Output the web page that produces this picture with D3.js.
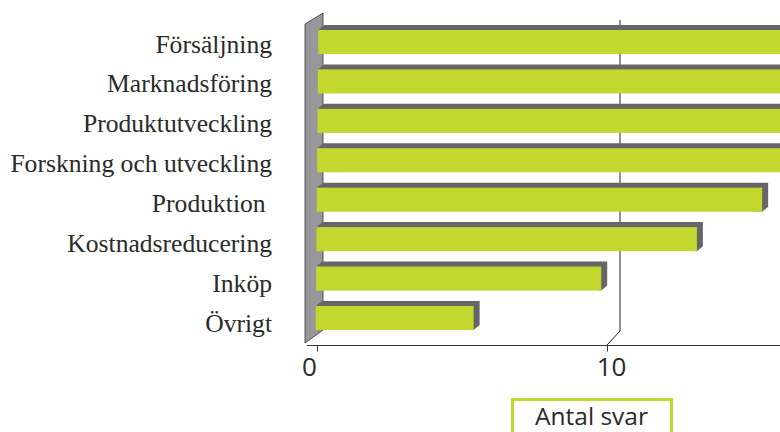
<!DOCTYPE html>
<html>
<head>
<meta charset="utf-8">
<script src="https://cdn.jsdelivr.net/npm/d3@7"></script>
<style>
  html, body {margin: 0; padding: 0; background: #fff;}
  svg {display: block;}
  .label {font-family: "Liberation Serif", serif; font-size: 25.6px; fill: #2a2a2a; white-space: pre;}
  .tick text {font-family: "Open Sans", sans-serif; font-size: 26px; fill: #2a2a2a;}
</style>
</head>
<body>
<div class="graph"></div>
<script>
// values, the top four run past the edge so they are estimates
var categories = ["Försäljning", "Marknadsföring", "Produktutveckling", "Forskning och utveckling",
                  "Produktion ", "Kostnadsreducering", "Inköp", "Övrigt"];
var answers = [17, 17, 17, 17, 15.35, 13.1, 9.8, 5.4];
var xTicks = [0, 10];

var width = 780, height = 432;
var depthX = 6, depthY = 5;

var svg = d3.select("div.graph").append("svg")
    .attr("width", width)
    .attr("height", height);

var x = d3.scaleLinear().domain([0, 16]).range([317, 781]);
var y = d3.scaleBand().domain(categories).range([30, 330]).paddingInner(0.39);
// the labels are spaced a little wider than the bars
var labelY = d3.scalePoint().domain(categories).range([52.5, 332]);

// back wall on the left
svg.append("path")
    .attr("d", "M305,343 L305,24 L323,13 L323,330 Z")
    .attr("fill", "#97989c")
    .attr("stroke", "#333")
    .attr("stroke-width", 0.8);

// gridline at 10, bends down to the tick at the floor
svg.append("path")
    .attr("d", "M" + (x(10) + 13) + ",20 V331 L" + x(10) + ",345")
    .attr("fill", "none")
    .attr("stroke", "#222")
    .attr("stroke-width", 1);

// bars
var bars = svg.selectAll("g.bar")
    .data(answers)
  .enter().append("g")
    .attr("class", "bar");

// the bars lean a little to the left further down
var barLeft = function(i) { return x(0) + 1.2 - i * 0.35; };

bars.append("path")
    .attr("fill", "#666667")
    .attr("d", function(d, i) {
      var top = y(categories[i]), right = x(d);
      return "M" + barLeft(i) + "," + top +
             "L" + (barLeft(i) + depthX) + "," + (top - depthY) +
             "L" + (right + depthX) + "," + (top - depthY) +
             "L" + (right + depthX) + "," + (top + y.bandwidth() - depthY) +
             "L" + right + "," + (top + y.bandwidth()) + "Z";
    });

bars.append("rect")
    .attr("fill", "#c3d72e")
    .attr("x", function(d, i) { return barLeft(i); })
    .attr("y", function(d, i) { return y(categories[i]); })
    .attr("width", function(d, i) { return x(d) - barLeft(i); })
    .attr("height", y.bandwidth());

// category labels
svg.selectAll("text.label")
    .data(categories)
  .enter().append("text")
    .attr("class", "label")
    .attr("text-anchor", "end")
    .attr("x", 272)
    .attr("y", function(d) { return labelY(d); })
    .text(function(d) { return d; });

// x axis
var axis = svg.append("g")
    .attr("transform", "translate(0,345.5)")
    .call(d3.axisBottom(x).tickValues(xTicks).tickSize(6).tickSizeOuter(0));

axis.select(".domain").remove();
axis.selectAll(".tick line").attr("stroke", "#333");
axis.selectAll(".tick text")
    .attr("y", 12)
    .attr("dx", function(d) { return d === 0 ? -8 : 4; });

svg.append("line")
    .attr("x1", x(0) - 10)
    .attr("x2", width)
    .attr("y1", 345.5)
    .attr("y2", 345.5)
    .attr("stroke", "#333")
    .attr("stroke-width", 1);

// legend box, runs off the bottom
svg.append("rect")
    .attr("x", 512.5)
    .attr("y", 399.5)
    .attr("width", 159)
    .attr("height", 40)
    .attr("fill", "#fff")
    .attr("stroke", "#c3d72e")
    .attr("stroke-width", 3);

svg.append("text")
    .attr("x", 591.5)
    .attr("y", 425)
    .attr("text-anchor", "middle")
    .style("font-family", "'Open Sans', sans-serif")
    .style("font-size", "24.5px")
    .style("fill", "#2a2a2a")
    .text("Antal svar");
</script>
</body>
</html>
